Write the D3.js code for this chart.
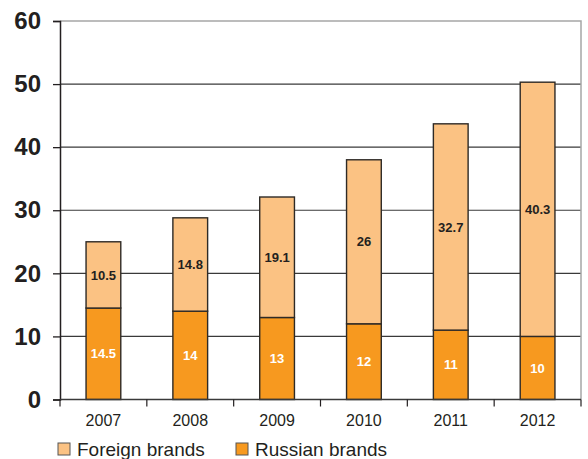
<!DOCTYPE html>
<html>
<head>
<meta charset="utf-8">
<script src="https://cdn.jsdelivr.net/npm/d3@7/dist/d3.min.js"></script>
<style>
  html, body { margin: 0; padding: 0; background: #fff; }
  svg { display: block; font-family: "Liberation Sans", Arial, sans-serif; }
</style>
</head>
<body>
<svg id="chart" width="588" height="459"></svg>
<script>
// Car sales by brand origin, per year
const years = ["2007", "2008", "2009", "2010", "2011", "2012"];
const russianBrands = [14.5, 14, 13, 12, 11, 10];
const foreignBrands = [10.5, 14.8, 19.1, 26, 32.7, 40.3];
const yTicks = [0, 10, 20, 30, 40, 50, 60];
const seriesNames = ["Foreign brands", "Russian brands"];

const colors = { russian: "#F7991F", foreign: "#FBC283" };

const svg = d3.select("#chart");
const margin = { left: 60, right: 7, top: 21, bottom: 59.5 };
const W = 588, H = 459;
const x0 = margin.left, x1 = W - margin.right;
const yTop = margin.top, yBot = H - margin.bottom;

const x = d3.scaleBand().domain(years).range([x0, x1]).paddingInner(0.6).paddingOuter(0.3);
const y = d3.scaleLinear().domain([0, 60]).range([yBot, yTop]);

const rows = years.map((yr, i) => ({ year: yr, russian: russianBrands[i], foreign: foreignBrands[i] }));
const stacked = d3.stack().keys(["russian", "foreign"])(rows);

// gridlines
svg.append("g").selectAll("line")
  .data(yTicks.filter(t => t > 0 && t < 60))
  .join("line")
  .attr("x1", x0).attr("x2", x1)
  .attr("y1", d => y(d)).attr("y2", d => y(d))
  .attr("stroke", "#3a3a3a").attr("stroke-width", 1.2);

// top and right frame
svg.append("path")
  .attr("d", `M${x0},${y(60)}H${x1}V${yBot}`)
  .attr("fill", "none").attr("stroke", "#a6a6a6").attr("stroke-width", 1.5);

// bars
const layers = svg.append("g").selectAll("g")
  .data(stacked).join("g")
  .attr("fill", d => colors[d.key]);

layers.selectAll("rect")
  .data(d => d)
  .join("rect")
  .attr("x", d => x(d.data.year))
  .attr("width", x.bandwidth())
  .attr("y", d => y(d[1]))
  .attr("height", d => y(d[0]) - y(d[1]))
  .attr("stroke", "#2e2a26").attr("stroke-width", 1.4);

// value labels
stacked.forEach(layer => {
  svg.append("g").selectAll("text")
    .data(layer)
    .join("text")
    .attr("x", d => x(d.data.year) + x.bandwidth() / 2)
    .attr("y", d => (y(d[0]) + y(d[1])) / 2)
    .attr("dy", "0.36em")
    .attr("text-anchor", "middle")
    .attr("font-size", 13)
    .attr("font-weight", "bold")
    .attr("fill", layer.key === "russian" ? "#ffffff" : "#231f20")
    .text(d => d.data[layer.key]);
});

// y axis
const yAxis = d3.axisLeft(y).tickValues(yTicks).tickSize(7).tickPadding(12);
const gy = svg.append("g").attr("transform", `translate(${x0},0)`).call(yAxis);
gy.select(".domain").attr("stroke", "#231f20").attr("stroke-width", 1.5);
gy.selectAll(".tick line").attr("stroke", "#231f20").attr("stroke-width", 1.3);
gy.selectAll(".tick text")
  .attr("font-size", 24).attr("font-weight", "bold").attr("fill", "#231f20")
  .attr("font-family", "'Liberation Sans', Arial, sans-serif");

// x axis with ticks between categories
svg.append("line")
  .attr("x1", x0).attr("x2", x1).attr("y1", yBot).attr("y2", yBot)
  .attr("stroke", "#3a3a3a").attr("stroke-width", 1.5);
const bounds = d3.range(years.length + 1).map(i => x0 + i * (x1 - x0) / years.length);
svg.append("g").selectAll("line")
  .data(bounds).join("line")
  .attr("x1", d => d).attr("x2", d => d)
  .attr("y1", yBot).attr("y2", yBot + 7)
  .attr("stroke", "#231f20").attr("stroke-width", 1.2);
svg.append("g").selectAll("text")
  .data(years).join("text")
  .attr("x", d => x(d) + x.bandwidth() / 2)
  .attr("y", yBot + 21)
  .attr("dy", "0.36em")
  .attr("text-anchor", "middle")
  .attr("font-size", 16)
  .attr("fill", "#231f20")
  .text(d => d);

// legend
const legend = svg.append("g").attr("transform", `translate(58,443)`);
const legendItems = [
  { name: seriesNames[0], color: colors.foreign, dx: 0 },
  { name: seriesNames[1], color: colors.russian, dx: 178 }
];
const li = legend.selectAll("g").data(legendItems).join("g")
  .attr("transform", d => `translate(${d.dx},0)`);
li.append("rect")
  .attr("width", 12).attr("height", 12)
  .attr("fill", d => d.color)
  .attr("stroke", "#555").attr("stroke-width", 1);
li.append("text")
  .attr("x", 19).attr("y", 12.5)
  .attr("font-size", 19)
  .attr("fill", "#231f20")
  .text(d => d.name);
</script>
</body>
</html>
